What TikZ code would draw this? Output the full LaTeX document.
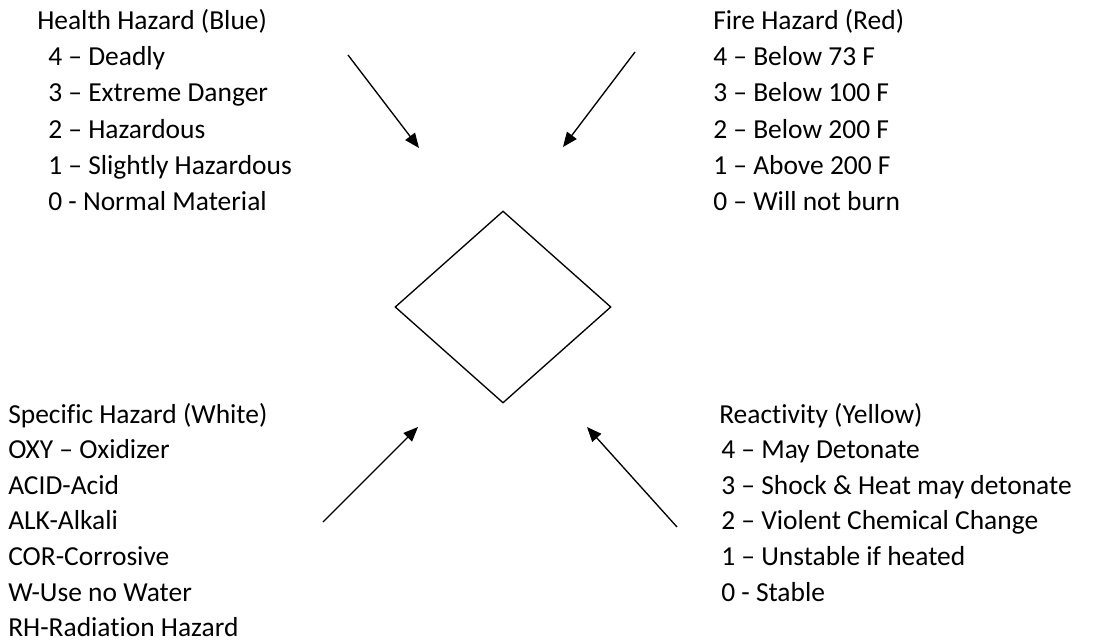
\documentclass[tikz,border=0pt]{standalone}
\usepackage{fontspec}
\setmainfont{Carlito}[Ligatures={TeX,NoCommon}]
\usepackage{tikz}
\usetikzlibrary{shapes.geometric, arrows.meta, positioning}
\tikzset{
  hzhead/.style={anchor=base west, inner sep=0pt, font=\fontsize{20.6}{24}\selectfont},
  hzitem/.style={hzhead},
  hzdiamond/.style={diamond, draw, line width=1pt, minimum width=162pt, minimum height=144pt, inner sep=0pt},
  hzarrow/.style={-{Triangle[length=11pt, width=9pt]}, line width=1pt},
}

\begin{document}
\begin{tikzpicture}[x=0.75pt, y=-0.75pt]
  \useasboundingbox (0,0) rectangle (1107,642);
  % the empty label
  \node[hzdiamond] (nfpa) at (503,307) {};
  % health, top left
  \node[hzhead] (healthhd) at (37,30) {Health Hazard (Blue)};
  \foreach \txt [count=\i] in {4 -- Deadly, 3 -- Extreme Danger, 2 -- Hazardous, 1 -- Slightly Hazardous, 0 - Normal Material}
    \node[hzitem] (health\i) at (48,{30+36*\i}) {\txt};
  % fire, top right
  \node[hzhead] (firehd) at (713,30) {Fire Hazard (Red)};
  \foreach \txt [count=\i] in {4 -- Below 73 F, 3 -- Below 100 F, 2 -- Below 200 F, 1 -- Above 200 F, 0 -- Will not burn}
    \node[hzitem] (fire\i) at (713,{30+36*\i}) {\txt};
  % specific, bottom left
  \node[hzhead] (spechd) at (8,423) {Specific Hazard (White)};
  \foreach \txt [count=\i] in {OXY -- Oxidizer, ACID-Acid, ALK-Alkali, COR-Corrosive, W-Use no Water, RH-Radiation Hazard}
    \node[hzitem] (spec\i) at (8,{423+35.6*\i}) {\txt};
  % reactivity, bottom right
  \node[hzhead] (reacthd) at (719,423) {Reactivity (Yellow)};
  \foreach \txt [count=\i] in {4 -- May Detonate, 3 -- Shock \& Heat may detonate, 2 -- Violent Chemical Change, 1 -- Unstable if heated, 0 - Stable}
    \node[hzitem] (react\i) at (721,{423+35.6*\i}) {\txt};
  % arrows
  \coordinate (healthtail) at (348,55);
  \coordinate (healthtip) at (419,148);
  \coordinate (firetail) at (635,52);
  \coordinate (firetip) at (563,147);
  \coordinate (spectail) at (323,522);
  \coordinate (spectip) at (418,427);
  \coordinate (reacttail) at (677,527);
  \coordinate (reacttip) at (587,427);
  \draw[hzarrow] (healthtail)--(healthtip);
  \draw[hzarrow] (firetail)--(firetip);
  \draw[hzarrow] (spectail)--(spectip);
  \draw[hzarrow] (reacttail)--(reacttip);
\end{tikzpicture}
\end{document}
